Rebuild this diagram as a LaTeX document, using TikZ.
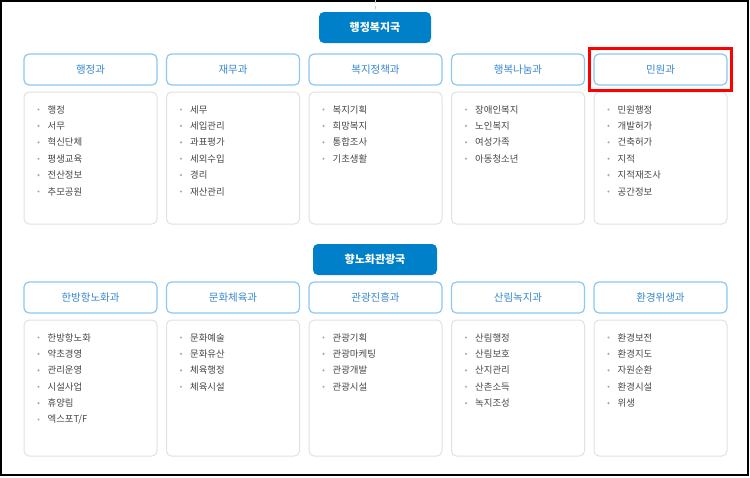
\documentclass[tikz,border=0pt]{standalone}
\usepackage{fontspec}
\setmainfont{Noto Sans CJK KR}
\definecolor{hdblue}{RGB}{0,128,200}
\definecolor{deptline}{RGB}{140,200,240}
\definecolor{depttext}{RGB}{55,135,205}
\definecolor{boxline}{RGB}{225,225,225}
\definecolor{itemtext}{RGB}{70,70,70}
\definecolor{dotgray}{RGB}{170,170,170}
\tikzset{
  x=1pt, y=-1pt,
  header/.style={draw=none, fill=hdblue, rounded corners=5pt, minimum width=112pt, minimum height=31pt,
    text=white, font=\fontsize{11}{13}\selectfont\bfseries, inner sep=0pt},
  dept/.style={draw=deptline, line width=1.2pt, rounded corners=5pt, minimum width=133pt, minimum height=31pt,
    text=depttext, font=\fontsize{10.5}{12}\selectfont, inner sep=0pt, fill=white},
  content/.style={draw=boxline, line width=1pt, rounded corners=5pt, minimum width=133pt, inner sep=0pt},
  item/.style={anchor=west, text=itemtext, font=\fontsize{9.4}{11}\selectfont, inner sep=0pt},
  dot/.style={circle, fill=dotgray, inner sep=0pt, minimum size=2.4pt},
  highlight/.style={draw=red, line width=3pt, inner sep=0pt, minimum width=142pt, minimum height=42pt},
  guide/.style={draw=black!20, dashed, line width=0.8pt}
}
\begin{document}
\begin{tikzpicture}
\useasboundingbox (0,0) rectangle (750,477);
\draw[line width=2pt] (1,1) rectangle (748,475);

% top guide line
\coordinate (topc) at (375,0);
\node[header] (h1) at (375,27.5) {행정복지국};
\draw[guide] (topc) -- (h1.north);

\node[header, minimum width=124pt] (h2) at (375,259.5) {향노화관광국};

% row 1
\foreach \i/\name in {1/행정과,2/재무과,3/복지정책과,4/행복나눔과,5/민원과}{
  \pgfmathsetmacro{\cx}{24+66.5+(\i-1)*142.5}
  \node[dept] (d\i) at (\cx,69.5) {\name};
  \node[content, minimum height=132pt] (c\i) at (\cx,158) {};
}
% row 2
\foreach \i/\name in {1/한방항노화과,2/문화체육과,3/관광진흥과,4/산림녹지과,5/환경위생과}{
  \pgfmathsetmacro{\cx}{24+66.5+(\i-1)*142.5}
  \node[dept] (e\i) at (\cx,297.5) {\name};
  \node[content, minimum height=136pt] (f\i) at (\cx,388) {};
}

% items row 1
\foreach \i/\list in {
  1/{행정,서무,혁신단체,평생교육,전산정보,추모공원},
  2/{세무,세입관리,과표평가,세외수입,경리,재산관리},
  3/{복지기획,희망복지,통합조사,기초생활},
  4/{장애인복지,노인복지,여성가족,아동청소년},
  5/{민원행정,개발허가,건축허가,지적,지적재조사,공간정보}}{
  \foreach \t [count=\k] in \list {
    \node[dot] (c\i dot\k) at ([xshift=15pt, yshift={-18pt-(\k-1)*16.4pt}]c\i.north west) {};
    \node[item] (c\i it\k) at ([xshift=9pt]c\i dot\k.center) {\t};
  }
}
% items row 2
\foreach \i/\list in {
  1/{한방항노화,약초경영,관리운영,시설사업,휴양림,엑스포T/F},
  2/{문화예술,문화유산,체육행정,체육시설},
  3/{관광기획,관광마케팅,관광개발,관광시설},
  4/{산림행정,산림보호,산지관리,산촌소득,녹지조성},
  5/{환경보전,환경지도,자원순환,환경시설,위생}}{
  \foreach \t [count=\k] in \list {
    \node[dot] (f\i dot\k) at ([xshift=15pt, yshift={-18pt-(\k-1)*16.4pt}]f\i.north west) {};
    \node[item] (f\i it\k) at ([xshift=9pt]f\i dot\k.center) {\t};
  }
}

% highlight
\node[highlight] (hl) at (d5.center) {};
\end{tikzpicture}
\end{document}
